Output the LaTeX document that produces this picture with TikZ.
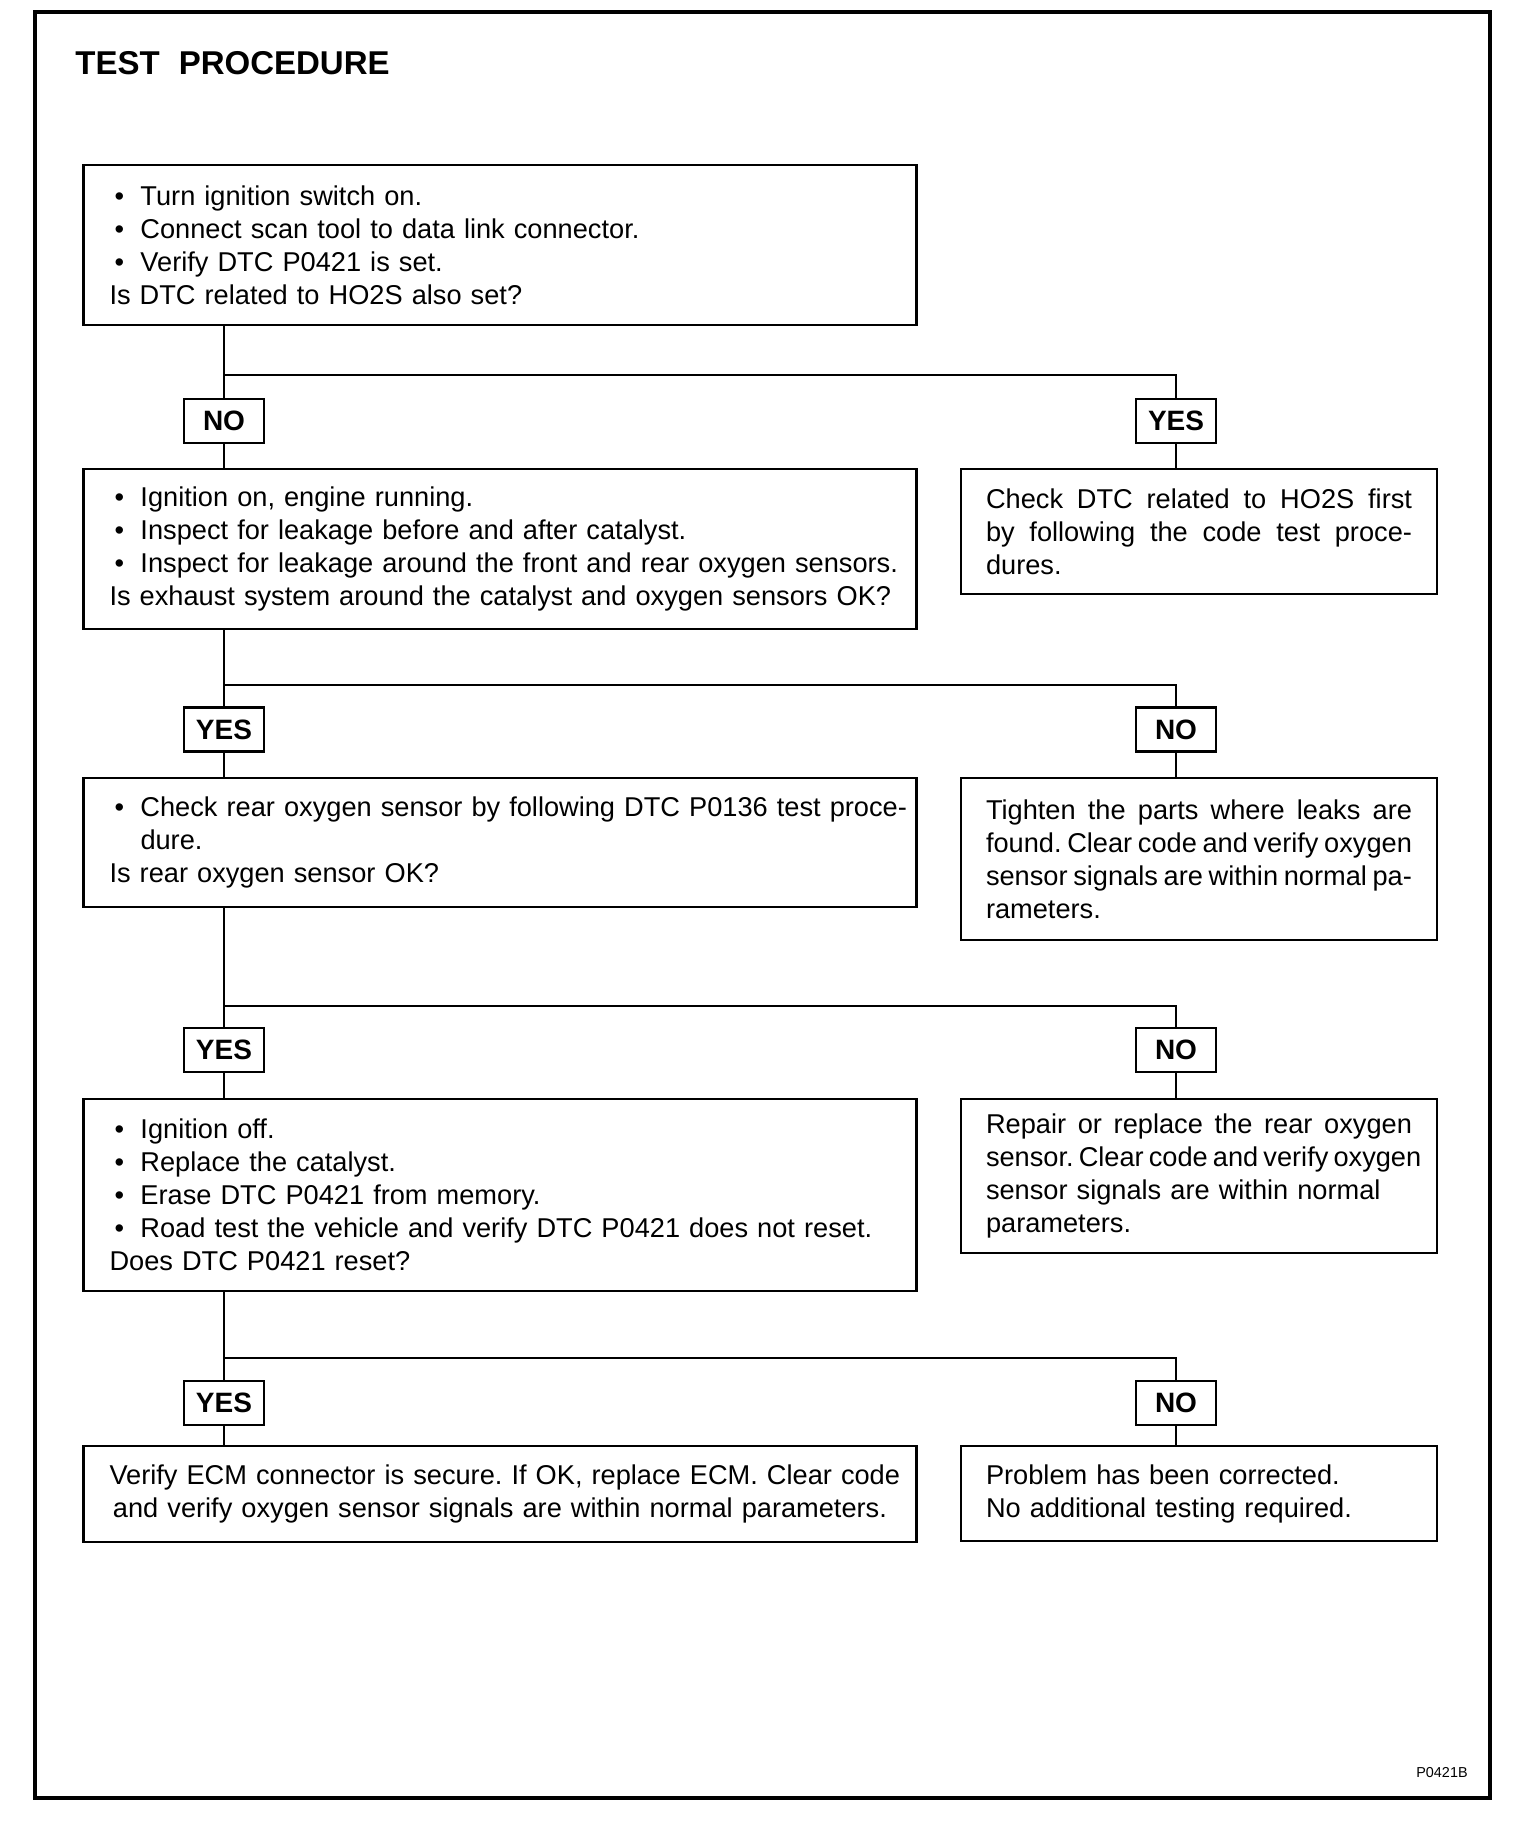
\documentclass[tikz,border=0pt]{standalone}
\usepackage{fontspec}
\setmainfont{Liberation Sans}
\frenchspacing
\newcommand{\bl}[1]{\mbox{\makebox[15.5pt][l]{\hspace{2.5pt}•}#1}}
\newcommand{\jl}[1]{\makebox[213pt][s]{\spaceskip=.278em plus 1em minus .09em\xspaceskip=\spaceskip #1}}
\begin{document}
\begin{tikzpicture}[x=0.5pt,y=-0.5pt,
  box/.style={draw, line width=1.1pt, inner xsep=13pt, inner ysep=0pt, text width=390.5pt, align=left, font=\fontsize{13.6}{16.5}\selectfont\frenchspacing},
  rbox/.style={box, inner xsep=12.5pt, text width=213pt},
  lbl/.style={draw, line width=1.1pt, minimum width=40pt, minimum height=22pt, inner sep=0pt, font=\bfseries\fontsize{14}{16}\selectfont},
  conn/.style={line width=1pt}]
\useasboundingbox (0,0) rectangle (1520,1834);
\fill[white] (0,0) rectangle (1520,1834);
\draw[line width=1.6pt] (35,12) rectangle (1490,1798);

\node[anchor=base west, inner sep=0pt, font=\bfseries\fontsize{16.5}{18}\selectfont] (title) at (75,75) {TEST\hspace{0.3em} PROCEDURE};

% row boxes
\node[box, minimum height=80pt] (b1) at (500,245) {\bl{Turn ignition switch on.}\\
\bl{Connect scan tool to data link connector.}\\
\bl{Verify DTC P0421 is set.}\\
\mbox{Is DTC related to HO2S also set?}};

\node[box, minimum height=80pt] (b2) at (500,549) {\bl{Ignition on, engine running.}\\
\bl{Inspect for leakage before and after catalyst.}\\
\bl{Inspect for leakage around the front and rear oxygen sensors.}\\
\mbox{Is exhaust system around the catalyst and oxygen sensors OK?}};

\node[rbox, minimum height=62.5pt] (r1) at (1199,531.5) {\jl{Check DTC related to HO2S first}\\
\jl{by following the code test proce-}\\
dures.};

\node[box, minimum height=64.5pt] (b3) at (500,842.5) {\bl{Check rear oxygen sensor by following DTC P0136 test proce-}\\
\hspace*{15.5pt}dure.\\
\mbox{Is rear oxygen sensor OK?}};

\node[rbox, minimum height=81pt] (r2) at (1199,859) {\jl{Tighten the parts where leaks are}\\
\jl{found. Clear code and verify oxygen}\\
\jl{sensor signals are within normal pa-}\\
rameters.};

\node[box, minimum height=96pt] (b4) at (500,1195) {\bl{Ignition off.}\\
\bl{Replace the catalyst.}\\
\bl{Erase DTC P0421 from memory.}\\
\bl{Road test the vehicle and verify DTC P0421 does not reset.}\\
\mbox{Does DTC P0421 reset?}};

\node[rbox, minimum height=77pt] (r3) at (1199,1176) {\jl{Repair or replace the rear oxygen}\\
\jl{sensor. Clear code and verify oxygen}\\
sensor signals are within normal\\
parameters.};

\node[box, align=center, minimum height=48pt] (b5) at (500,1494) {\mbox{Verify ECM connector is secure. If OK, replace ECM. Clear code}\\
\mbox{and verify oxygen sensor signals are within normal parameters.}};

\node[rbox, minimum height=47.5pt] (r4) at (1199,1493.5) {Problem has been corrected.\\
No additional testing required.};

% labels
\node[lbl] (l1) at (224,421) {NO};
\node[lbl] (m1) at (1176,421) {YES};
\node[lbl] (l2) at (224,729.5) {YES};
\node[lbl] (m2) at (1176,729.5) {NO};
\node[lbl] (l3) at (224,1050) {YES};
\node[lbl] (m3) at (1176,1050) {NO};
\node[lbl] (l4) at (224,1403) {YES};
\node[lbl] (m4) at (1176,1403) {NO};

\coordinate (j1) at (224,375);
\coordinate (j2) at (224,685);
\coordinate (j3) at (224,1006);
\coordinate (j4) at (224,1358);

% connectors
\draw[conn] (l1.north |- b1.south) -- (l1.north);
\draw[conn] (l1.south) -- (l1.south |- b2.north);
\draw[conn] (j1) -| (m1.north);
\draw[conn] (m1.south) -- (m1.south |- r1.north);

\draw[conn] (l2.north |- b2.south) -- (l2.north);
\draw[conn] (l2.south) -- (l2.south |- b3.north);
\draw[conn] (j2) -| (m2.north);
\draw[conn] (m2.south) -- (m2.south |- r2.north);

\draw[conn] (l3.north |- b3.south) -- (l3.north);
\draw[conn] (l3.south) -- (l3.south |- b4.north);
\draw[conn] (j3) -| (m3.north);
\draw[conn] (m3.south) -- (m3.south |- r3.north);

\draw[conn] (l4.north |- b4.south) -- (l4.north);
\draw[conn] (l4.south) -- (l4.south |- b5.north);
\draw[conn] (j4) -| (m4.north);
\draw[conn] (m4.south) -- (m4.south |- r4.north);

\node[anchor=base east, inner sep=0pt, font=\fontsize{7.2}{8}\selectfont] (code) at (1468,1777) {P0421B};
\end{tikzpicture}
\end{document}
